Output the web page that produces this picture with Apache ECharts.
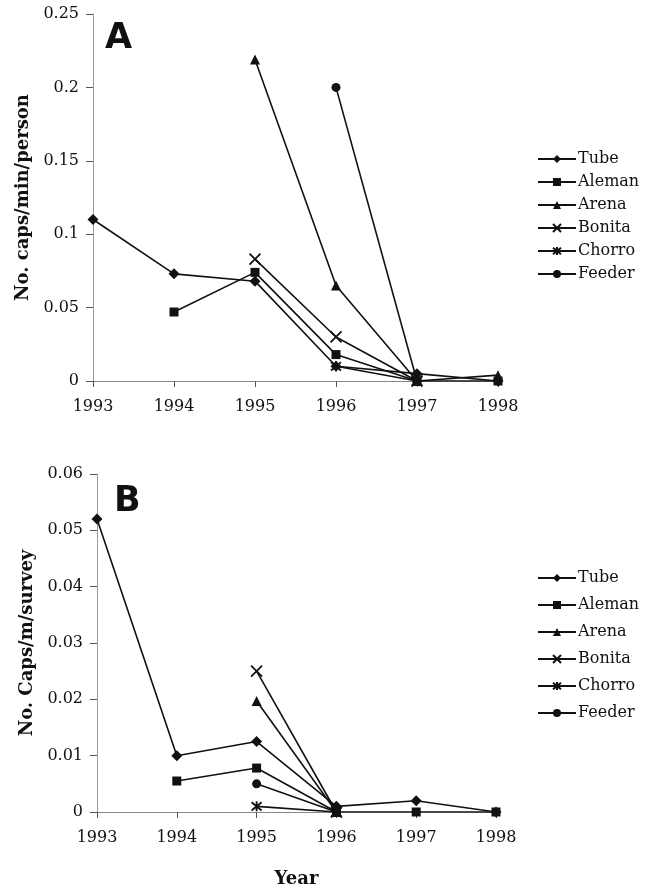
<!DOCTYPE html>
<html>
<head>
<meta charset="utf-8">
<script src="https://cdn.jsdelivr.net/npm/echarts@6/dist/echarts.min.js"></script>
<style>
  html, body { margin: 0; padding: 0; background: #fff; }
  #chart { width: 658px; height: 889px; }
</style>
</head>
<body>
<div id="chart"></div>
<script>
const years = ['1993', '1994', '1995', '1996', '1997', '1998'];
const siteNames = ['Tube', 'Aleman', 'Arena', 'Bonita', 'Chorro', 'Feeder'];

// panel A: caps/min/person
const tubeA = [0.11, 0.073, 0.068, 0.01, 0.005, 0];
const alemanA = [null, 0.047, 0.074, 0.018, 0, 0];
const arenaA = [null, null, 0.219, 0.065, 0, 0.004];
const bonitaA = [null, null, 0.083, 0.03, 0, null];
const chorroA = [null, null, null, 0.01, 0, null];
const feederA = [null, null, null, 0.2, 0, null];

// panel B: caps/m/survey
const tubeB = [0.052, 0.01, 0.0125, 0.001, 0.002, 0];
const alemanB = [null, 0.0055, 0.0078, 0, 0, 0];
const arenaB = [null, null, 0.0197, 0, null, null];
const bonitaB = [null, null, 0.025, 0, null, null];
const chorroB = [null, null, 0.001, 0, null, null];
const feederB = [null, null, 0.005, 0, null, null];

const yTicksA = { min: 0, max: 0.25, interval: 0.05 };
const yTicksB = { min: 0, max: 0.06, interval: 0.01 };

const serif = '"DejaVu Serif", "Liberation Serif", serif';

const symbols = {
  Tube: { symbol: 'diamond', size: 11 },
  Aleman: { symbol: 'rect', size: 9 },
  Arena: { symbol: 'triangle', size: 10 },
  Bonita: { symbol: 'path://M0,0L10,10M10,0L0,10', size: 11 },
  Chorro: { symbol: 'path://M0,0L10,10M10,0L0,10M5,-1L5,11', size: 10 },
  Feeder: { symbol: 'circle', size: 9 },
};

function makeSeries(name, data, idx) {
  const s = symbols[name];
  const stroke = name === 'Bonita' || name === 'Chorro';
  return {
    name,
    type: 'line',
    xAxisIndex: idx,
    yAxisIndex: idx,
    data,
    symbol: s.symbol,
    symbolSize: s.size,
    showAllSymbol: true,
    connectNulls: false,
    lineStyle: { color: '#111', width: 1.6 },
    itemStyle: {
      color: stroke ? 'rgba(0,0,0,0)' : '#111',
      borderColor: '#111',
      borderWidth: stroke ? 1.8 : 0,
    },
    emphasis: { disabled: true },
    z: 3,
  };
}

function xAxisFor(idx, withName) {
  return {
    type: 'category',
    gridIndex: idx,
    data: years,
    boundaryGap: false,
    axisLine: { lineStyle: { color: '#888', width: 1 } },
    axisTick: { show: true, length: 6, lineStyle: { color: '#555' } },
    axisLabel: { color: '#111', fontFamily: serif, fontSize: 16, margin: 18 },
    name: withName ? 'Year' : '',
    nameLocation: 'middle',
    nameGap: 58,
    nameTextStyle: { color: '#111', fontFamily: serif, fontSize: 18, fontWeight: 'bold' },
  };
}

function yAxisFor(idx, ticks, title) {
  return {
    type: 'value',
    gridIndex: idx,
    min: ticks.min,
    max: ticks.max,
    interval: ticks.interval,
    axisLine: { show: true, lineStyle: { color: '#999', width: 1 } },
    axisTick: { show: true, length: 7, lineStyle: { color: '#555' } },
    axisLabel: { color: '#111', fontFamily: serif, fontSize: 16, margin: 14 },
    splitLine: { show: false },
    name: title,
    nameLocation: 'middle',
    nameGap: 58,
    nameTextStyle: { color: '#111', fontFamily: serif, fontSize: 18, fontWeight: 'bold' },
  };
}

function legendFor(idx, top, gap) {
  return {
    orient: 'vertical',
    left: 532,
    top,
    itemGap: gap,
    itemWidth: 38,
    itemHeight: 10,
    data: siteNames.map((n) => ({ name: n })),
    textStyle: { color: '#111', fontFamily: serif, fontSize: 16, padding: [0, 0, 0, -3] },
    selectedMode: false,
  };
}

const dataA = [tubeA, alemanA, arenaA, bonitaA, chorroA, feederA];
const dataB = [tubeB, alemanB, arenaB, bonitaB, chorroB, feederB];

const series = [];
siteNames.forEach((n, i) => series.push(makeSeries(n, dataA[i], 0)));
siteNames.forEach((n, i) => series.push(makeSeries(n, dataB[i], 1)));

const option = {
  backgroundColor: '#fff',
  animation: false,
  grid: [
    { left: 93, top: 14, width: 405, height: 367 },
    { left: 97, top: 474, width: 399, height: 342 },
  ],
  xAxis: [xAxisFor(0, false), xAxisFor(1, true)],
  yAxis: [
    yAxisFor(0, yTicksA, 'No. caps/min/person'),
    yAxisFor(1, yTicksB, 'No. Caps/m/survey'),
  ],
  legend: [legendFor(0, 146, 7), legendFor(1, 565, 11)],
  graphic: [
    {
      type: 'text', left: 105, top: 21,
      style: { text: 'A', font: 'bold 35px "DejaVu Sans", sans-serif', fill: '#111' },
    },
    {
      type: 'text', left: 114, top: 484,
      style: { text: 'B', font: 'bold 35px "DejaVu Sans", sans-serif', fill: '#111' },
    },
  ],
  series,
};

const myChart = echarts.init(document.getElementById('chart'));
myChart.setOption(option);
</script>
</body>
</html>
